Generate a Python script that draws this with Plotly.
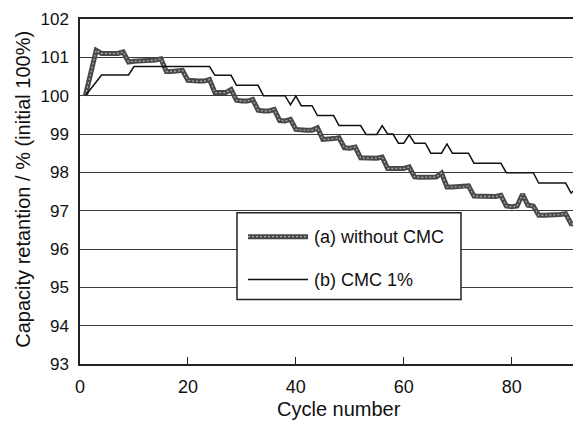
import plotly.graph_objects as go

cycles = list(range(1, 93))

without_cmc = [
    100.00, 100.58, 101.18, 101.10, 101.10, 101.10, 101.10, 101.14, 100.88, 100.90,
    100.90, 100.90, 100.92, 100.93, 100.96, 100.63, 100.63, 100.64, 100.66, 100.40,
    100.38, 100.38, 100.38, 100.42, 100.08, 100.08, 100.08, 100.16, 99.88, 99.86,
    99.86, 99.90, 99.62, 99.60, 99.60, 99.64, 99.35, 99.34, 99.38, 99.12,
    99.10, 99.10, 99.10, 99.16, 98.86, 98.86, 98.88, 98.90, 98.64, 98.63,
    98.66, 98.38, 98.37, 98.37, 98.37, 98.40, 98.10, 98.10, 98.10, 98.10,
    98.14, 97.88, 97.87, 97.87, 97.87, 97.88, 97.98, 97.62, 97.62, 97.62,
    97.62, 97.65, 97.38, 97.37, 97.37, 97.37, 97.37, 97.40, 97.12, 97.10,
    97.12, 97.43, 97.14, 97.12, 96.88, 96.88, 96.88, 96.89, 96.90, 96.92,
    96.66, 96.64,
]

cmc_1pct = [
    100.00, 100.18, 100.36, 100.54, 100.54, 100.54, 100.54, 100.54, 100.54, 100.76,
    100.76, 100.76, 100.76, 100.76, 100.76, 100.76, 100.76, 100.76, 100.76, 100.76,
    100.76, 100.76, 100.76, 100.76, 100.53, 100.53, 100.53, 100.53, 100.27, 100.27,
    100.27, 100.27, 100.27, 100.00, 100.00, 100.00, 100.00, 100.00, 99.76, 99.99,
    99.74, 99.74, 99.74, 99.48, 99.48, 99.48, 99.48, 99.22, 99.22, 99.22,
    99.22, 99.22, 98.99, 98.99, 98.99, 99.22, 99.00, 99.00, 98.76, 98.76,
    98.98, 98.76, 98.76, 98.76, 98.50, 98.50, 98.50, 98.74, 98.50, 98.50,
    98.50, 98.50, 98.24, 98.24, 98.24, 98.24, 98.24, 98.24, 97.99, 97.99,
    97.99, 97.99, 97.99, 97.99, 97.72, 97.72, 97.72, 97.72, 97.72, 97.72,
    97.46, 97.59,
]

legend_labels = ["(a) without CMC", "(b) CMC 1%"]
x_title = "Cycle number"
y_title = "Capacity retantion / % (initial 100%)"
x_ticks = [0, 20, 40, 60, 80]
y_ticks = [93, 94, 95, 96, 97, 98, 99, 100, 101, 102]

FONT = "Arial, Liberation Sans, sans-serif"
A_DARK = "#484848"
A_LIGHT = "#a8a8a8"

fig = go.Figure()
# (a) thick speckled gray line: dark base + light dotted overlay
fig.add_trace(go.Scatter(x=cycles, y=without_cmc, mode="lines",
                         line=dict(color=A_DARK, width=5),
                         name=legend_labels[0], showlegend=False))
fig.add_trace(go.Scatter(x=cycles, y=without_cmc, mode="lines",
                         line=dict(color=A_LIGHT, width=1.3, dash="2px,2px"),
                         showlegend=False, hoverinfo="skip"))
# (b) thin black line
fig.add_trace(go.Scatter(x=cycles, y=cmc_1pct, mode="lines",
                         line=dict(color="#111111", width=1.5),
                         name=legend_labels[1], showlegend=False))

# custom legend box
lx0, lx1, ly0, ly1 = 0.3159, 0.7666, 0.1867, 0.4385
sx0, sx1 = 0.338, 0.4588
row_y = [0.369, 0.2446]
shapes = [
    dict(type="rect", xref="paper", yref="paper", x0=lx0, x1=lx1, y0=ly0, y1=ly1,
         line=dict(color="#222222", width=1.5), fillcolor="white", layer="above"),
    dict(type="line", xref="paper", yref="paper", x0=sx0, x1=sx1, y0=row_y[0], y1=row_y[0],
         line=dict(color=A_DARK, width=5), layer="above"),
    dict(type="line", xref="paper", yref="paper", x0=sx0, x1=sx1, y0=row_y[0], y1=row_y[0],
         line=dict(color=A_LIGHT, width=1.3, dash="2px,2px"), layer="above"),
    dict(type="line", xref="paper", yref="paper", x0=sx0, x1=sx1, y0=row_y[1], y1=row_y[1],
         line=dict(color="#111111", width=1.5), layer="above"),
]
annotations = [
    dict(xref="paper", yref="paper", x=0.4668, y=row_y[i], text=legend_labels[i],
         showarrow=False, xanchor="left", yanchor="middle",
         font=dict(family=FONT, size=18, color="#111111"))
    for i in range(2)
]
annotations.append(dict(xref="paper", yref="paper", x=0.521, y=-0.1317, text=x_title,
                        showarrow=False, xanchor="center", yanchor="middle",
                        font=dict(family=FONT, size=20, color="#111111")))
annotations.append(dict(xref="paper", yref="paper", x=-0.1147, y=0.508, text=y_title,
                        showarrow=False, xanchor="center", yanchor="middle", textangle=-90,
                        font=dict(family=FONT, size=20, color="#111111")))

# the page body has an 8px margin, so the figure is sized to fit the window
fig.update_layout(
    width=573, height=414,
    margin=dict(l=72, r=4, t=11, b=57.5, pad=0),
    paper_bgcolor="white", plot_bgcolor="white",
    font=dict(family=FONT, color="#111111"),
    shapes=shapes, annotations=annotations,
    showlegend=False,
)
fig.update_xaxes(
    range=[0, 92.1], tickvals=x_ticks, ticks="inside", ticklen=7, tickcolor="#222222",
    showgrid=False, zeroline=False, showline=True, linecolor="#222222", linewidth=1.5,
    mirror=True, tickfont=dict(size=18), ticklabelstandoff=6, automargin=False,
)
fig.update_yaxes(
    range=[93, 102], tickvals=y_ticks, ticks="", showgrid=True, gridcolor="#3a3a3a",
    gridwidth=1, zeroline=False, showline=True, linecolor="#222222", linewidth=1.5,
    mirror=True, tickfont=dict(size=17), ticklabelstandoff=6, automargin=False,
)

fig.write_html("out.html")
